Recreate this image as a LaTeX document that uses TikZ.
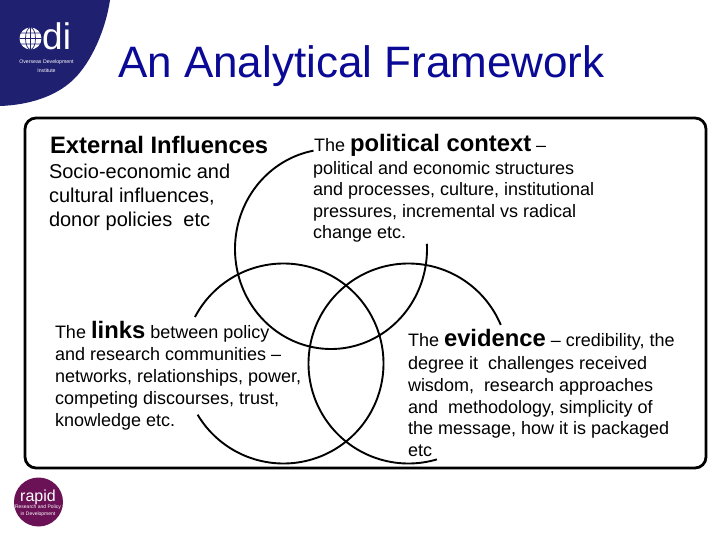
\documentclass[tikz,border=0pt]{standalone}
\usepackage{fontspec}
\setmainfont{Liberation Sans}
\definecolor{odinavy}{HTML}{1F2070}
\definecolor{titleblue}{HTML}{0A0A96}
\definecolor{rapidplum}{HTML}{6B1155}
\newcommand{\fs}[1]{\fontsize{#1}{#1}\selectfont}
\tikzset{
  txt/.style={anchor=base west,inner sep=0pt,outer sep=0pt,text=black,font=\fs{18}},
  exttxt/.style={txt,font=\fs{20}},
  venn/.style={draw=black,line width=1.9pt,samples=200,line join=round},
  white text/.style={inner sep=0pt,text=white}
}
\newcommand{\hd}[1]{{\fs{23.8}\bfseries #1}}
\begin{document}
\begin{tikzpicture}[x=1pt,y=-1pt]
\useasboundingbox (0,0) rectangle (720,540);
\fill[white] (0,0) rectangle (720,540);
% odi corner
\fill[odinavy] (0,0) -- (110,0) .. controls (106,28) and (92,62) .. (73,80) .. controls (55,97) and (28,105) .. (0,106) -- cycle;
\node[circle,fill=white,minimum size=22pt,inner sep=0pt] (globe) at (30.5,38.5) {};
\draw[odinavy,line width=0.7pt] (globe.west) -- (globe.east) (globe.north) -- (globe.south)
  (globe.center) ellipse (5 and 11) (20.6,33) -- (40.4,33) (20.6,44) -- (40.4,44);
\node[white text,anchor=base west,font=\fs{37}] (oditext) at (42,49.5) {di};
\node[white text,font=\fs{5.2}] (odiline1) at (46.5,62.5) {Overseas Development};
\node[white text,font=\fs{5.2}] (odiline2) at (46.5,70.5) {Institute};
% rapid logo
\node[circle,fill=rapidplum,minimum size=49pt,inner sep=0pt] (rapidlogo) at (38.5,502) {};
\node[white text,anchor=base,font=\fs{16}] (rapidtext) at (38,501.5) {rapid};
\node[white text,font=\fs{5}] (rapidline1) at (38,507.5) {Research and Policy};
\node[white text,font=\fs{5}] (rapidline2) at (38,514.5) {in Development};
% title
\node[txt,text=titleblue,font=\fs{44}] (title) at (118,78) {An Analytical Framework};
% frame
\node[draw=black,line width=2.8pt,rounded corners=11pt,minimum width=681pt,minimum height=350pt,inner sep=0pt] (frame) at (365.5,293) {};
% venn arcs
\draw[venn] plot[domain=-3:259.5] ({331+96*cos(\x)},{249+100*sin(\x)});
\draw[venn] plot[domain=207.7:509.2] ({283.5+100*cos(\x)},{363.5+100*sin(\x)});
\draw[venn] plot[domain=-286.5:-22.7] ({408.5+100*cos(\x)},{363.5+100*sin(\x)});
% external influences
\node[txt,font=\fs{23.8}\bfseries] (ext0) at (50,153.5) {External Influences};
\node[exttxt] (ext1) at (49,178.5) {Socio-economic and};
\node[exttxt] (ext2) at (49,203) {cultural influences,};
\node[exttxt] (ext3) at (49,226.5) {donor policies\ \ etc};
% political context
\node[txt] (pol0) at (314,152) {The \hd{political context} –};
\node[txt] (pol1) at (313,175) {political and economic structures};
\node[txt] (pol2) at (313,196) {and processes, culture, institutional};
\node[txt] (pol3) at (313,218) {pressures, incremental vs radical};
\node[txt] (pol4) at (313,239) {change etc.};
% links
\node[txt] (lnk0) at (55,338) {The \hd{links} between policy};
\node[txt] (lnk1) at (55,360.5) {and research communities –};
\node[txt] (lnk2) at (55,382) {networks, relationships, power,};
\node[txt] (lnk3) at (55,404) {competing discourses, trust,};
\node[txt] (lnk4) at (55,426) {knowledge etc.};
% evidence
\node[txt] (evd0) at (408,346) {The \hd{evidence} – credibility, the};
\node[txt] (evd1) at (408,369.5) {degree it\ \ challenges received};
\node[txt] (evd2) at (408,391.5) {wisdom,\ \ research approaches};
\node[txt] (evd3) at (408,413) {and\ \ methodology, simplicity of};
\node[txt] (evd4) at (408,434) {the message, how it is packaged};
\node[txt] (evd5) at (408,456) {etc};
\end{tikzpicture}
\end{document}
